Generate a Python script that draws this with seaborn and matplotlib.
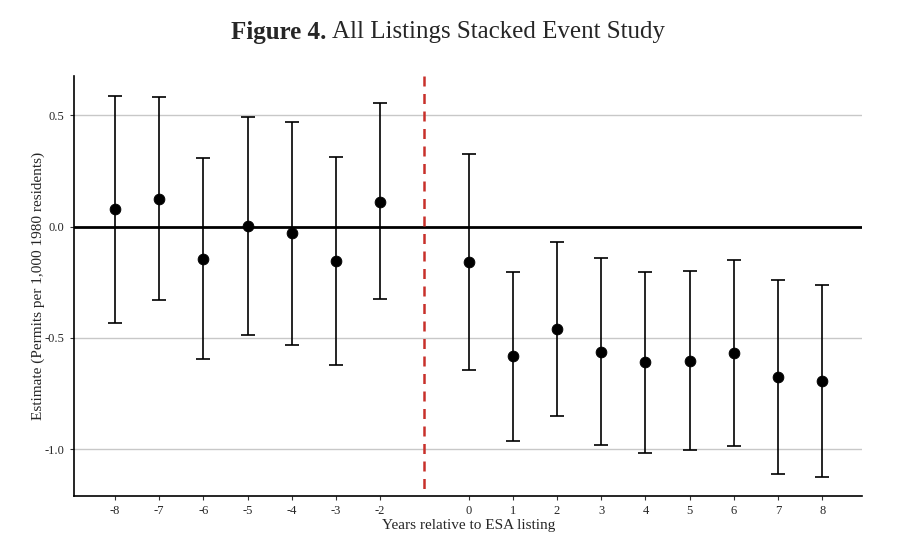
import matplotlib
matplotlib.use("Agg")
import matplotlib.pyplot as plt
import seaborn as sns
import pandas as pd

# event-study estimates
years = [-8, -7, -6, -5, -4, -3, -2, 0, 1, 2, 3, 4, 5, 6, 7, 8]
estimate = [0.078, 0.124, -0.145, 0.003, -0.030, -0.156, 0.112,
            -0.161, -0.582, -0.462, -0.562, -0.610, -0.603, -0.568, -0.676, -0.692]
ci_upper = [0.587, 0.581, 0.307, 0.491, 0.470, 0.311, 0.553,
            0.324, -0.204, -0.070, -0.142, -0.204, -0.200, -0.148, -0.241, -0.262]
ci_lower = [-0.431, -0.331, -0.594, -0.487, -0.532, -0.620, -0.327,
            -0.645, -0.961, -0.852, -0.979, -1.018, -1.002, -0.987, -1.111, -1.124]
y_ticks = [-1.0, -0.5, 0.0, 0.5]

df = pd.DataFrame({"year": years, "est": estimate, "hi": ci_upper, "lo": ci_lower})

sns.set_theme(style="white")
plt.rcParams["font.family"] = ["Liberation Serif", "DejaVu Serif"]

fig = plt.figure(figsize=(9.17, 5.37), dpi=100)
ax = fig.add_axes([0.081, 0.077, 0.859, 0.781])

for yt in y_ticks:
    if yt != 0:
        ax.axhline(yt, color="#c8c8c8", lw=1.0, zorder=0)
ax.axhline(0, color="black", lw=2.0, zorder=1)
# treatment line, dashes drawn from the top down
ax.axvline(-1, ymin=1, ymax=0, color="#c8302a", lw=1.8, ls=(0, (4, 3)), zorder=1)

ax.errorbar(df["year"], df["est"],
            yerr=[df["est"] - df["lo"], df["hi"] - df["est"]],
            fmt="none", ecolor="black", elinewidth=1.2, capsize=5, capthick=1.2, zorder=2)
sns.scatterplot(data=df, x="year", y="est", color="black", s=60, edgecolor="black",
                zorder=3, ax=ax)

ax.set_xlim(-8.92, 8.9)
ax.set_ylim(-1.208, 0.675)
ax.set_xticks(years)
ax.set_xticklabels([str(y) for y in years])
ax.set_yticks(y_ticks)
ax.set_yticklabels([f"{t:.1f}" for t in y_ticks])
ax.tick_params(axis="both", labelsize=9, length=3, width=0.8, color="#333333",
               bottom=True, left=True, pad=4)

for side in ["top", "right"]:
    ax.spines[side].set_visible(False)
for side in ["left", "bottom"]:
    ax.spines[side].set_color("black")
    ax.spines[side].set_linewidth(1.2)

ax.set_xlabel("Years relative to ESA listing", fontsize=11, labelpad=1)
ax.set_ylabel("Estimate (Permits per 1,000 1980 residents)", fontsize=11, labelpad=0)

fig.text(0.252, 0.94, "Figure 4.", fontsize=18, fontweight="bold", ha="left", va="center")
fig.text(0.362, 0.94, "All Listings Stacked Event Study", fontsize=18, ha="left", va="center")

fig.savefig("out.png", dpi=100)
